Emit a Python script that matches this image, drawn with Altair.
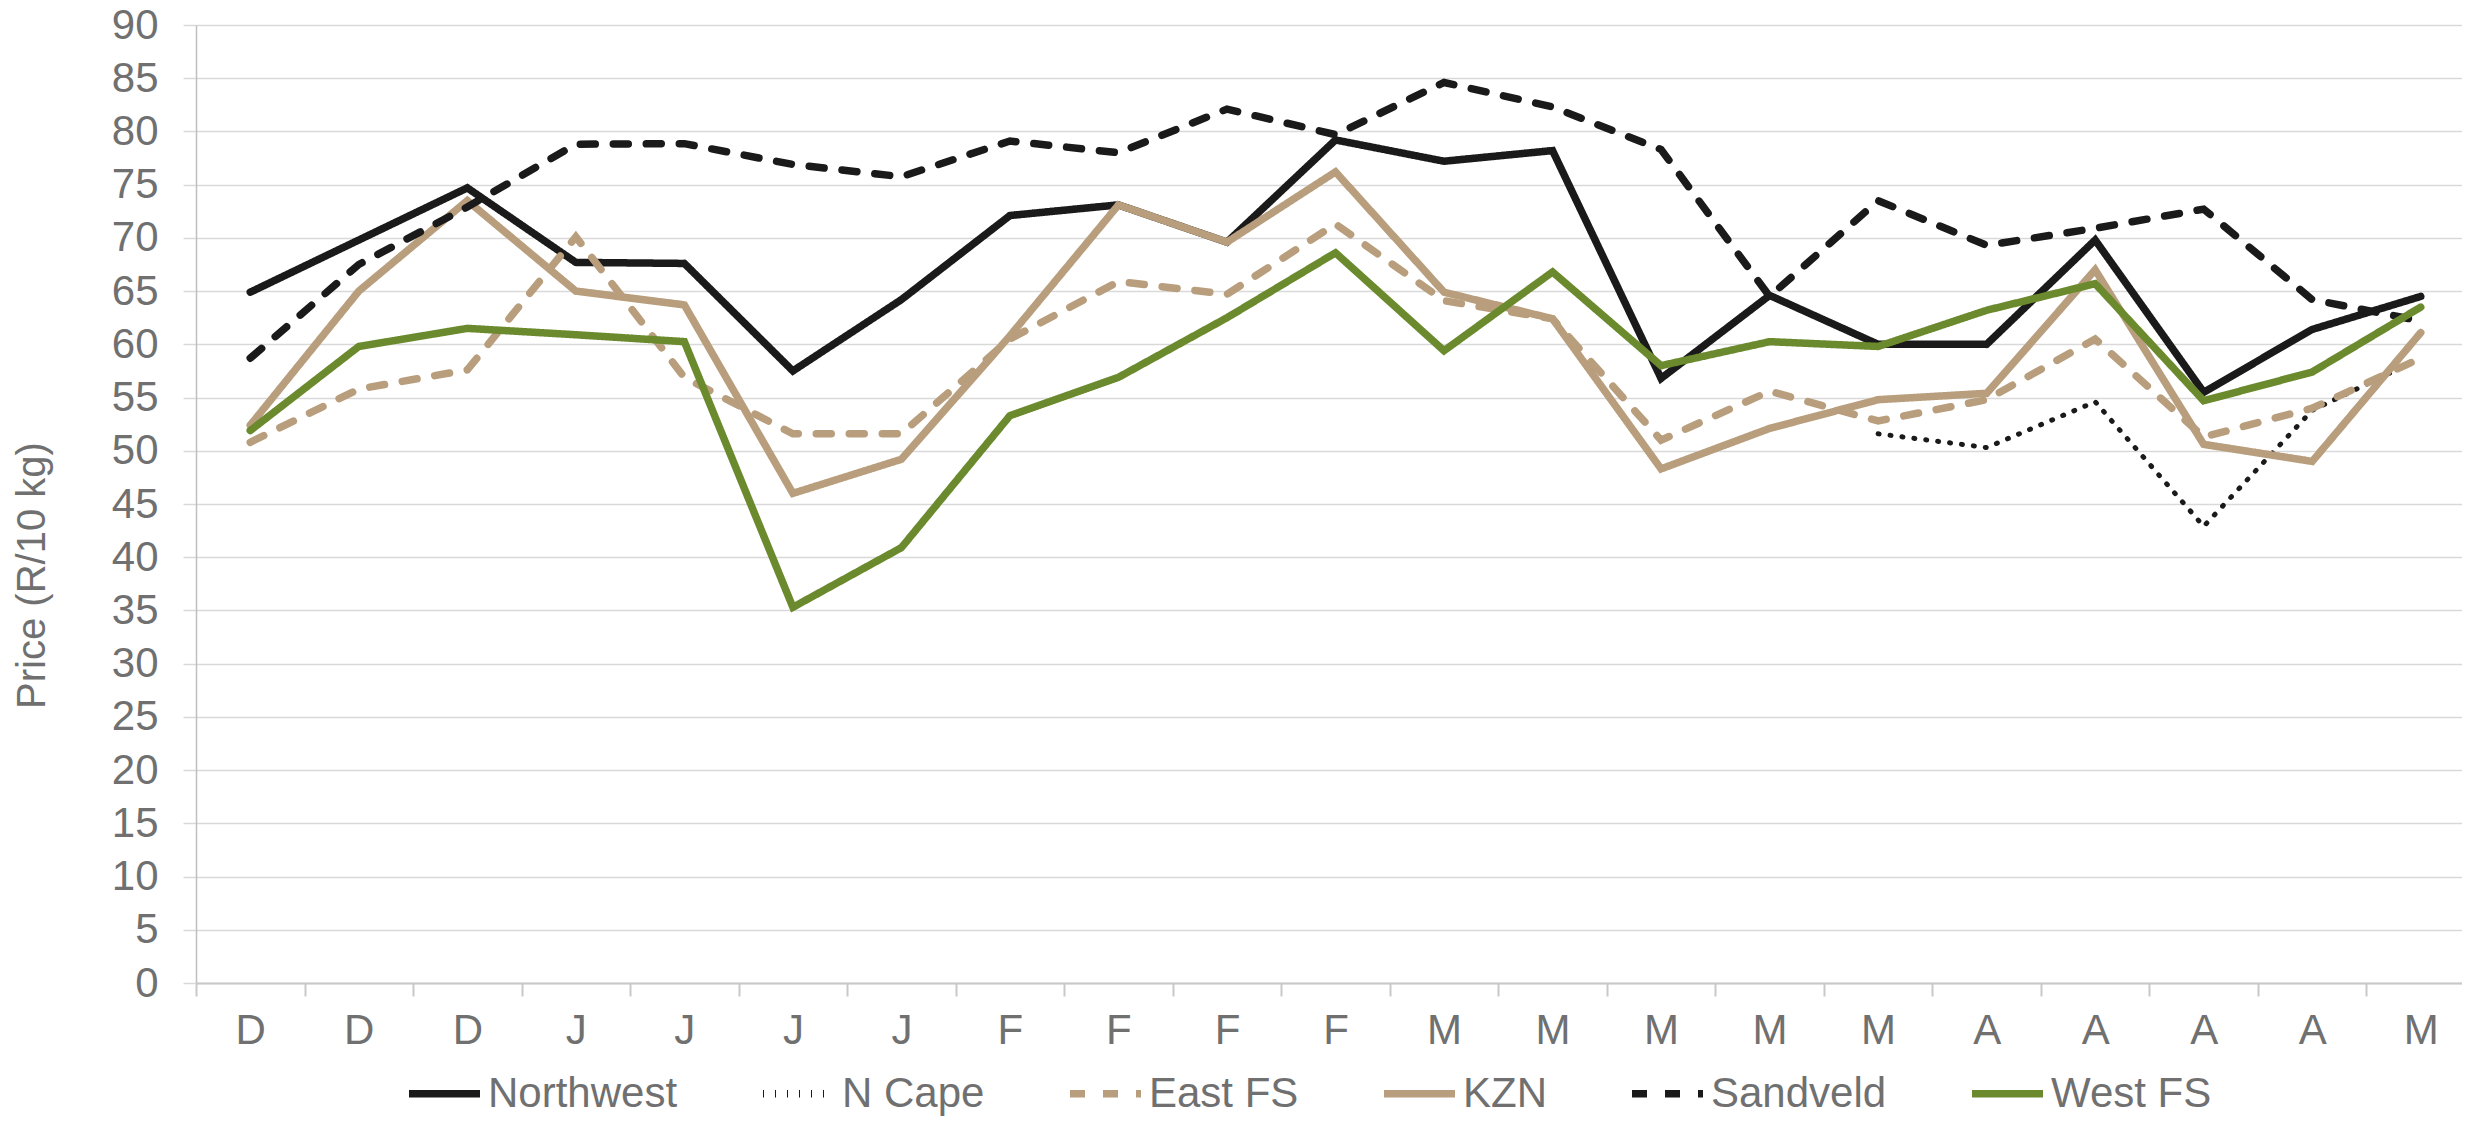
import altair as alt
import pandas as pd

months = ["D","D","D","J","J","J","J","F","F","F","F","M","M","M","M","M","A","A","A","A","M"]

series_names = ["Northwest", "N Cape", "East FS", "KZN", "Sandveld", "West FS"]

northwest = [64.9, 69.8, 74.7, 67.7, 67.6, 57.5, 64.2, 72.1, 73.1, 69.6, 79.2, 77.2, 78.2, 56.8, 64.6, 60.0, 60.0, 69.8, 55.5, 61.4, 64.5]
n_cape = [None]*15 + [51.6, 50.3, 54.6, 42.9, 53.8, 58.7]
east_fs = [50.8, 55.8, 57.6, 70.1, 56.9, 51.6, 51.6, 60.5, 65.9, 64.7, 71.3, 64.1, 62.4, 51.0, 55.6, 52.8, 54.8, 60.5, 51.3, 54.0, 58.7]
kzn = [52.4, 65.0, 73.5, 65.0, 63.7, 46.0, 49.2, 60.8, 73.1, 69.6, 76.2, 64.9, 62.4, 48.3, 52.1, 54.8, 55.4, 67.0, 50.6, 49.0, 61.1]
sandveld = [58.7, 67.5, 72.9, 78.8, 78.85, 76.9, 75.75, 79.1, 78.0, 82.1, 79.7, 84.6, 82.3, 78.3, 64.5, 73.5, 69.3, 70.9, 72.7, 64.2, 62.2]
west_fs = [51.9, 59.8, 61.5, 60.9, 60.25, 35.3, 40.9, 53.3, 56.9, 62.5, 68.6, 59.4, 66.8, 58.0, 60.25, 59.8, 63.2, 65.7, 54.7, 57.4, 63.5]

colors = ["#1a1a1a", "#1a1a1a", "#b89e7c", "#b89e7c", "#1a1a1a", "#6b8a2e"]
dashes = [[1, 0], [1, 11], [15, 18], [1, 0], [15, 18], [1, 0]]

rows = []
for si, (name, vals) in enumerate(zip(series_names, [northwest, n_cape, east_fs, kzn, sandveld, west_fs])):
    for i, v in enumerate(vals):
        if v is not None:
            rows.append({"idx": i, "series": name, "order": si, "value": v})
df = pd.DataFrame(rows)

label_expr = "[" + ",".join("'" + m + "'" for m in months) + "][datum.value]"

TXT = "#707070"
FONT = "Liberation Sans"

legend = alt.Legend(title=None, orient="none", legendX=209, legendY=1029,
                    direction="horizontal", symbolType="stroke", symbolSize=5041,
                    symbolStrokeWidth=7.5, labelFontSize=42, labelColor=TXT, labelFont=FONT,
                    labelLimit=0, columnPadding=70, labelOffset=4, padding=0)

chart = alt.Chart(df).mark_line(strokeCap="round", strokeJoin="miter").encode(
    x=alt.X("idx:O",
            scale=alt.Scale(type="band", paddingInner=0, paddingOuter=0, range=[0, 2279]),
            axis=alt.Axis(title=None, labelExpr=label_expr, labelAngle=0, labelFontSize=42,
                          labelColor=TXT, labelFont=FONT, labelPadding=14, tickBand="extent",
                          tickSize=13, tickColor="#c8c8c8", tickWidth=2, domainColor="#c8c8c8",
                          domainWidth=2, grid=False)),
    y=alt.Y("value:Q",
            scale=alt.Scale(domain=[0, 90], nice=False),
            axis=alt.Axis(title="Price (R/10 kg)", values=list(range(0, 95, 5)), labelFontSize=42,
                          labelColor=TXT, labelFont=FONT, labelPadding=25, tickSize=13,
                          tickColor="#d9d9d9", tickWidth=1.5, domainColor="#bfbfbf", domainWidth=1.5,
                          gridColor="#d9d9d9", gridWidth=1.5, titleFontSize=40, titleColor=TXT,
                          titleFont=FONT, titleFontWeight="normal", titleX=-164, titleY=550,
                          titleAngle=270, titleAlign="center", titleBaseline="middle")),
    color=alt.Color("series:N", scale=alt.Scale(domain=series_names, range=colors), legend=legend),
    strokeDash=alt.StrokeDash("series:N", scale=alt.Scale(domain=series_names, range=dashes),
                              legend=legend),
    strokeWidth=alt.condition(alt.datum.series == "N Cape", alt.value(5), alt.value(7.5)),
    order=alt.Order("order:Q"),
    detail="series:N",
).properties(
    width=2266,
    height=958,
    autosize=alt.AutoSizeParams(type="none"),
    padding={"left": 188, "top": 17, "right": 0, "bottom": 136},
    background="white",
).configure_view(stroke=None)

chart.save("out.html", embed_options={"renderer": "svg", "actions": False})
